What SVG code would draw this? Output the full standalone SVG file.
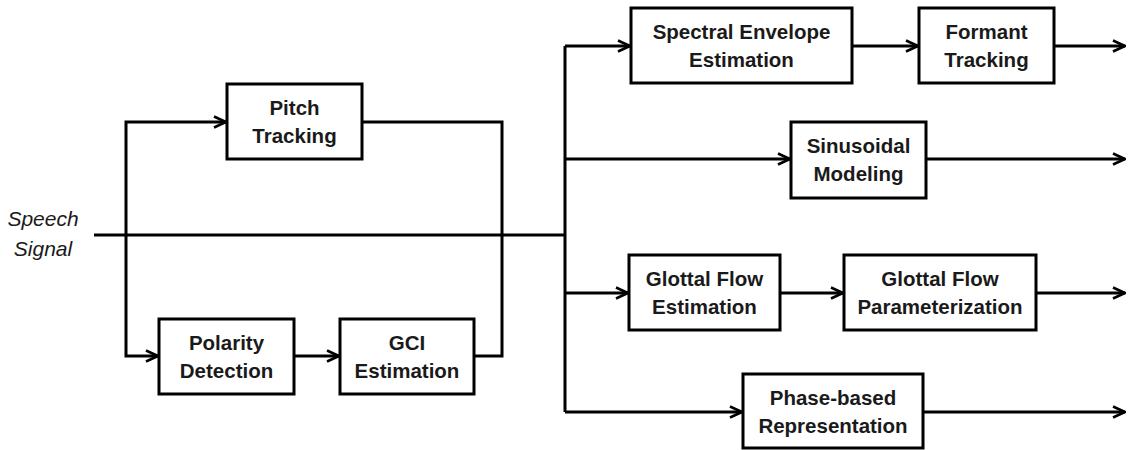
<svg xmlns="http://www.w3.org/2000/svg" width="1130" height="450" viewBox="0 0 1130 450">
  <style>
    .box { fill: #ffffff; stroke: #000000; stroke-width: 3; }
    .lbl { font-family: "Liberation Sans", Arial, sans-serif; font-weight: bold; font-size: 20.5px; fill: #1a1a1a; text-anchor: middle; }
    .in { font-family: "Liberation Sans", Arial, sans-serif; font-style: italic; font-size: 21px; fill: #1a1a1a; text-anchor: middle; }
    .wire { fill: none; stroke: #000000; stroke-width: 3; }
    .arr { marker-end: url(#head); }
  </style>
  <defs>
    <marker id="head" viewBox="0 0 14 14" refX="13" refY="7" markerWidth="14" markerHeight="14" markerUnits="userSpaceOnUse" orient="auto">
      <path d="M1,1.5 L13,7 L1,12.5" fill="none" stroke="#000000" stroke-width="2.6" stroke-linejoin="miter"/>
    </marker>
  </defs>

  <!-- input label -->
  <g id="input">
    <text class="in" x="43" y="226">Speech</text>
    <text class="in" x="43" y="256">Signal</text>
  </g>

  <!-- connectors -->
  <g id="connectors">
    <!-- main signal line -->
    <path class="wire" d="M94,235 H565" stroke-width="4"/>
    <!-- split to pitch tracking / polarity detection -->
    <path class="wire arr" d="M126,235 V122 H226"/>
    <path class="wire arr" d="M126,235 V356 H158"/>
    <path class="wire arr" d="M294,356 H339"/>
    <!-- merge back into main line -->
    <path class="wire" d="M362,122 H502 V356 H474"/>
    <!-- analysis branches -->
    <path class="wire" d="M565,46 V412"/>
    <path class="wire arr" d="M565,46 H630"/>
    <path class="wire arr" d="M852,46 H918"/>
    <path class="wire arr" d="M1054,46 H1125"/>
    <path class="wire arr" d="M565,159 H790"/>
    <path class="wire arr" d="M926,159 H1125"/>
    <path class="wire arr" d="M565,293 H628"/>
    <path class="wire arr" d="M780,293 H843"/>
    <path class="wire arr" d="M1036,293 H1125"/>
    <path class="wire arr" d="M565,412 H742"/>
    <path class="wire arr" d="M923,412 H1125"/>
  </g>

  <g id="pitch">
    <rect class="box" x="227" y="84" width="135" height="75"/>
    <text class="lbl" x="294.5" y="115">Pitch</text>
    <text class="lbl" x="294.5" y="143">Tracking</text>
  </g>
  <g id="polarity">
    <rect class="box" x="159" y="319" width="135" height="75"/>
    <text class="lbl" x="226.5" y="350">Polarity</text>
    <text class="lbl" x="226.5" y="378">Detection</text>
  </g>
  <g id="gci">
    <rect class="box" x="340" y="319" width="134" height="75"/>
    <text class="lbl" x="407" y="350">GCI</text>
    <text class="lbl" x="407" y="378">Estimation</text>
  </g>
  <g id="spectral">
    <rect class="box" x="631" y="8" width="221" height="75"/>
    <text class="lbl" x="741.5" y="39">Spectral Envelope</text>
    <text class="lbl" x="741.5" y="67">Estimation</text>
  </g>
  <g id="formant">
    <rect class="box" x="919" y="8" width="135" height="75"/>
    <text class="lbl" x="986.5" y="39">Formant</text>
    <text class="lbl" x="986.5" y="67">Tracking</text>
  </g>
  <g id="sinusoidal">
    <rect class="box" x="791" y="122" width="135" height="76"/>
    <text class="lbl" x="858.5" y="153">Sinusoidal</text>
    <text class="lbl" x="858.5" y="181">Modeling</text>
  </g>
  <g id="glottal-est">
    <rect class="box" x="629" y="255" width="151" height="75"/>
    <text class="lbl" x="704.5" y="286">Glottal Flow</text>
    <text class="lbl" x="704.5" y="314">Estimation</text>
  </g>
  <g id="glottal-param">
    <rect class="box" x="844" y="255" width="192" height="75"/>
    <text class="lbl" x="940" y="286">Glottal Flow</text>
    <text class="lbl" x="940" y="314">Parameterization</text>
  </g>
  <g id="phase">
    <rect class="box" x="743" y="374" width="180" height="74"/>
    <text class="lbl" x="833" y="405">Phase-based</text>
    <text class="lbl" x="833" y="433">Representation</text>
  </g>
</svg>
